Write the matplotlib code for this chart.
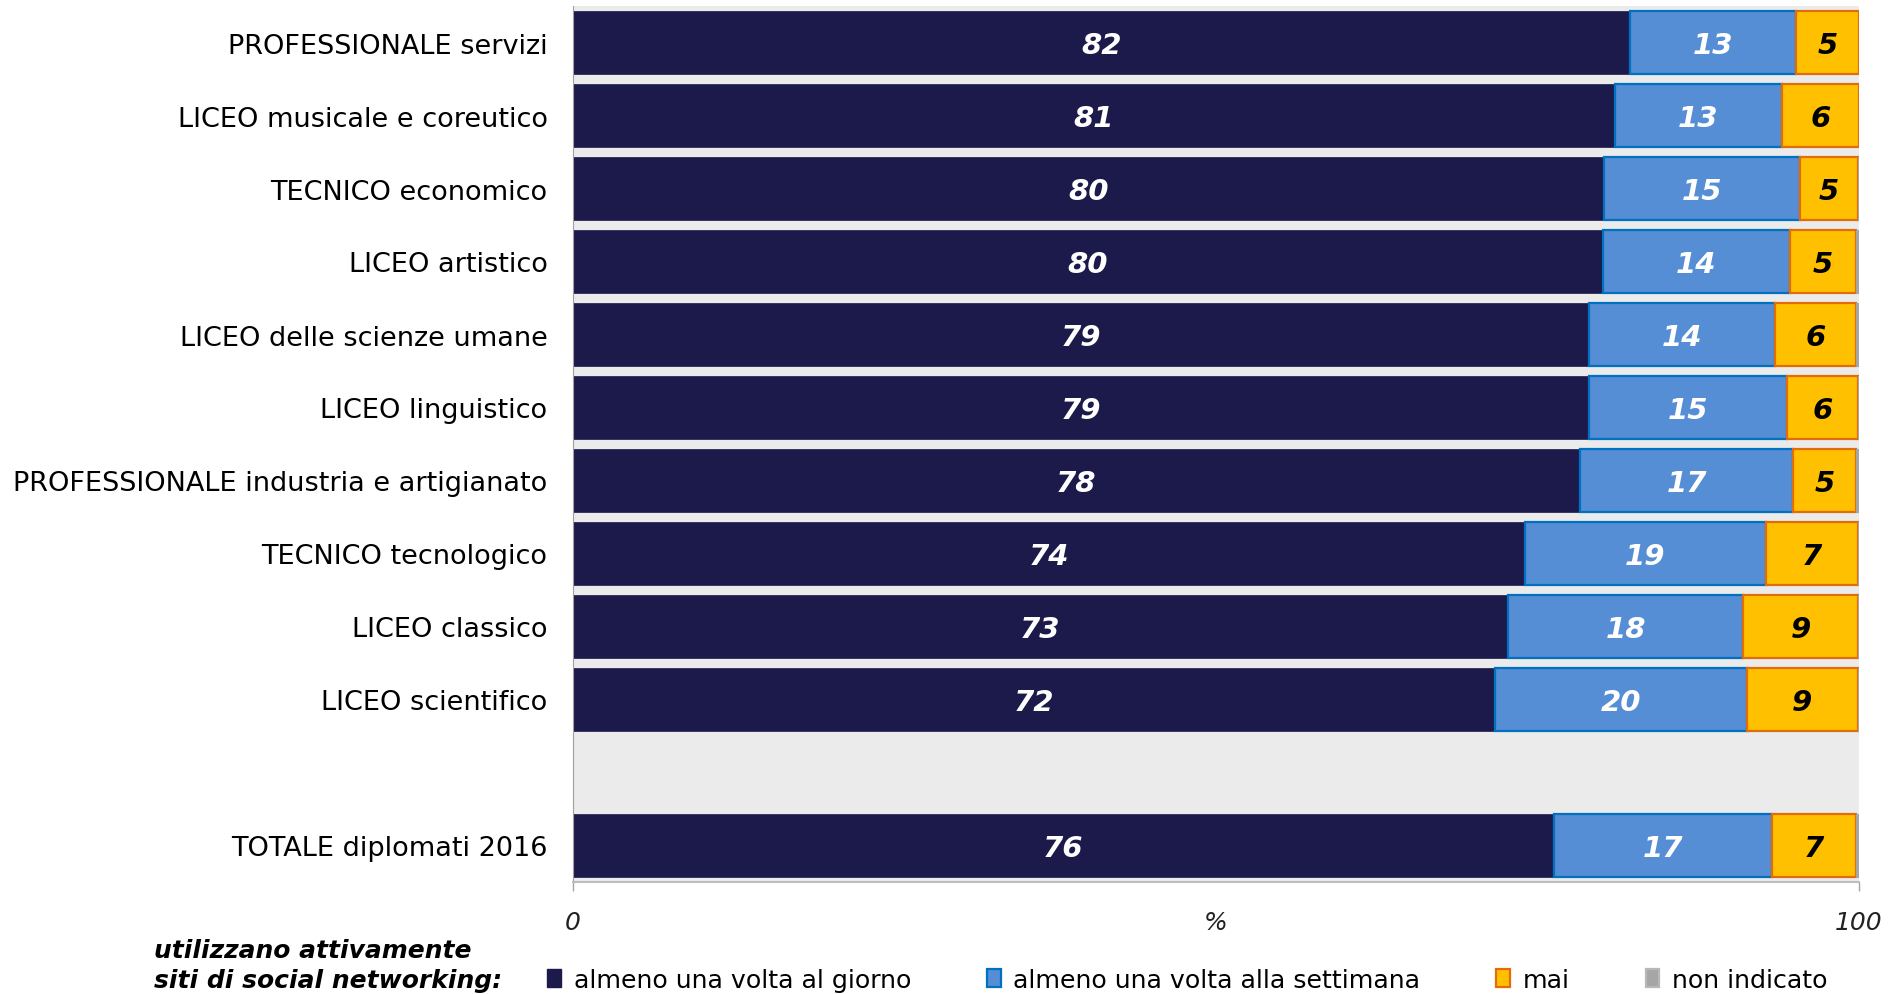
import matplotlib
matplotlib.use("Agg")
import matplotlib.pyplot as plt
from matplotlib.patches import Patch
import numpy as np

plt.rcParams['font.family'] = ['DejaVu Sans']

categories = [
    "PROFESSIONALE servizi",
    "LICEO musicale e coreutico",
    "TECNICO economico",
    "LICEO artistico",
    "LICEO delle scienze umane",
    "LICEO linguistico",
    "PROFESSIONALE industria e artigianato",
    "TECNICO tecnologico",
    "LICEO classico",
    "LICEO scientifico",
    "TOTALE diplomati 2016",
]
giorno = [82.2, 81.0, 80.2, 80.1, 79.0, 79.0, 78.3, 74.0, 72.7, 71.7, 76.3]
settimana = [12.9, 13.0, 15.2, 14.5, 14.5, 15.4, 16.6, 18.8, 18.3, 19.6, 16.9]
mai = [4.9, 6.0, 4.5, 5.2, 6.3, 5.5, 4.9, 7.1, 8.9, 8.6, 6.6]
non_indicato = [0.0, 0.0, 0.15, 0.15, 0.15, 0.15, 0.2, 0.1, 0.2, 0.15, 0.15]
labels_giorno = [82, 81, 80, 80, 79, 79, 78, 74, 73, 72, 76]
labels_settimana = [13, 13, 15, 14, 14, 15, 17, 19, 18, 20, 17]
labels_mai = [5, 6, 5, 5, 6, 6, 5, 7, 9, 9, 7]
legend_names = ["almeno una volta al giorno", "almeno una volta alla settimana",
                "mai", "non indicato"]
x_ticks = [0, 100]
x_ticklabels = ["0", "100"]

c_dark, e_dark = "#1B1A4B", "#1B1A4B"
c_blue, e_blue = "#558ED5", "#0070C0"
c_orng, e_orng = "#FFC000", "#E36C0A"
c_grey, e_grey = "#A6A6A6", "#A6A6A6"

W, H = 1892, 995
fig = plt.figure(figsize=(W / 100, H / 100), dpi=100)
ax = fig.add_axes([572.5 / W, 1 - 883 / H, (1859 - 572.5) / W, (883 - 7) / H])
ax.set_facecolor("#EBEBEB")

n = len(categories)
ypos = np.array(list(range(n - 1)) + [n])  # gap before the total
h = 0.85

g = np.array(giorno); s = np.array(settimana); m = np.array(mai); ni = np.array(non_indicato)
ax.barh(ypos, g, height=h, color=c_dark, edgecolor=e_dark, linewidth=0.5)
ax.barh(ypos, s, left=g, height=h, color=c_blue, edgecolor=e_blue, linewidth=1.6)
ax.barh(ypos, m, left=g + s, height=h, color=c_orng, edgecolor=e_orng, linewidth=1.6)
ax.barh(ypos, ni, left=g + s + m, height=h, color=c_grey, edgecolor=e_grey, linewidth=0.8)

lab_kw = dict(ha="center", va="center", fontsize=21, fontweight="bold", style="italic")
for i, y in enumerate(ypos):
    ax.text(g[i] / 2, y + 0.03, str(labels_giorno[i]), color="white", **lab_kw)
    ax.text(g[i] + s[i] / 2, y + 0.03, str(labels_settimana[i]), color="white", **lab_kw)
    ax.text(g[i] + s[i] + m[i] / 2, y + 0.03, str(labels_mai[i]), color="black", **lab_kw)

ax.set_xlim(0, 100)
ax.set_ylim(n + 0.5, -0.5)
ax.set_yticks(ypos)
ax.set_yticklabels(categories, fontsize=19.5, color="black")
ax.tick_params(axis="y", length=0, pad=18)
ax.set_xticks(x_ticks)
ax.set_xticklabels(x_ticklabels, fontsize=18, style="italic", color="#222222")
ax.tick_params(axis="x", length=6.5, width=1, color="#A6A6A6", pad=14)
ax.annotate("%", xy=(50, 0), xycoords=ax.get_xaxis_transform(),
            xytext=(0, -20.5), textcoords="offset points",
            ha="center", va="top", fontsize=18, style="italic", color="#222222")

for sp in ["top", "right"]:
    ax.spines[sp].set_visible(False)
ax.spines["left"].set_color("#A0A0A0")
ax.spines["bottom"].set_color("#BDBDBD")
ax.spines["bottom"].set_linewidth(1.5)

fig.text(154 / W, 1 - 951 / H, "utilizzano attivamente", fontsize=18,
         fontweight="bold", style="italic", va="center", ha="left")
fig.text(154 / W, 1 - 981 / H, "siti di social networking:", fontsize=18,
         fontweight="bold", style="italic", va="center", ha="left")

handles = [Patch(facecolor=c_dark, edgecolor=e_dark, linewidth=1),
           Patch(facecolor=c_blue, edgecolor=e_blue, linewidth=1.6),
           Patch(facecolor=c_orng, edgecolor=e_orng, linewidth=1.6),
           Patch(facecolor=c_grey, edgecolor="#B8B8B8", linewidth=1.6)]
fig.legend(handles, legend_names, loc="center left",
           bbox_to_anchor=(547 / W, 1 - 981 / H), ncol=4, frameon=False,
           fontsize=18.2, handlelength=0.55, handleheight=0.75,
           handletextpad=0.5, columnspacing=3.0, borderpad=0, borderaxespad=0)

fig.savefig("out.png", dpi=100)
